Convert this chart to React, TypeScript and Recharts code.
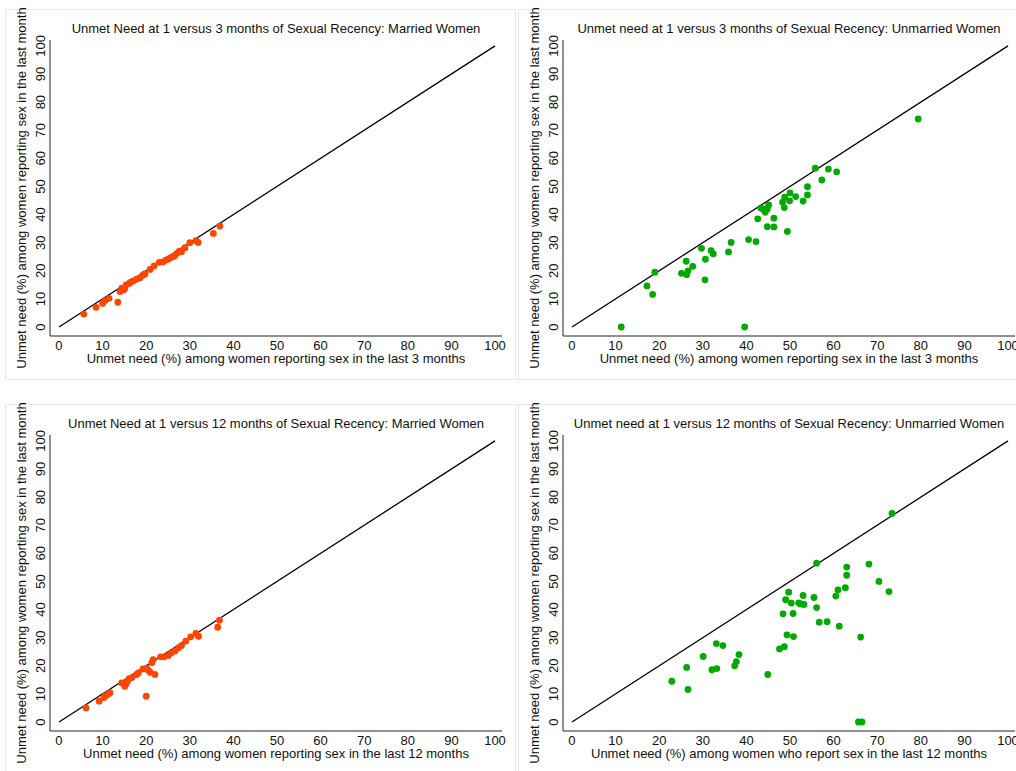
import { ScatterChart, Scatter, XAxis, YAxis, ReferenceLine } from "recharts"

// unmet need at 1 month (y) vs 3 / 12 months (x)
const married3m = [
  [5.7, 4.6], [8.5, 7.0], [10.0, 8.4], [10.6, 9.4], [11.5, 10.2], [13.5, 8.8],
  [14.0, 12.6], [14.4, 13.8], [15.1, 13.8], [15.4, 15.0], [16.1, 15.5], [17.0, 16.4],
  [17.8, 17.0], [18.6, 17.5], [19.3, 18.5], [19.7, 18.9], [20.9, 20.5], [21.8, 21.7],
  [23.0, 23.0], [23.9, 23.2], [25.1, 24.2], [25.8, 24.8], [26.4, 25.2], [27.1, 26.2],
  [28.1, 26.8], [28.9, 28.2], [30.0, 30.0], [31.4, 30.7], [31.9, 30.1], [35.4, 33.3],
  [36.9, 35.9], [14.8, 13.2], [16.5, 16.0], [24.5, 23.8], [27.6, 27.0],
]

const unmarried3m = [
  [11.3, 0], [39.6, 0], [17.2, 14.6], [18.5, 11.6], [19.0, 19.5], [25.1, 19.1],
  [26.2, 23.4], [26.3, 18.6], [26.6, 20.0], [27.7, 21.6], [29.7, 28.0], [30.5, 16.8],
  [30.6, 24.1], [31.9, 27.2], [32.4, 26.0], [35.9, 26.7], [36.5, 30.1], [40.5, 31.1],
  [42.2, 30.4], [42.6, 38.5], [43.3, 42.3], [43.8, 42.0], [44.3, 40.8], [44.8, 42.0],
  [45.1, 43.4], [44.8, 35.7], [46.3, 38.7], [46.3, 35.6], [48.3, 44.4], [48.8, 46.2],
  [48.7, 42.5], [49.4, 34.0], [49.9, 44.9], [50.0, 47.7], [51.3, 46.4], [53.0, 44.8],
  [54.0, 49.9], [54.0, 47.0], [55.8, 56.5], [57.3, 52.3], [58.8, 56.2], [60.7, 55.2],
  [79.4, 74.0],
]

const married12m = [
  [6.2, 5.0], [9.2, 7.4], [10.6, 9.2], [11.2, 9.8], [11.7, 10.4], [10.3, 8.7],
  [14.4, 13.9], [15.1, 12.7], [15.4, 13.6], [15.7, 14.5], [16.1, 15.4], [16.7, 15.8],
  [17.8, 16.9], [18.2, 17.5], [19.3, 18.9], [20.0, 9.2], [20.1, 19.2], [20.5, 18.4],
  [20.9, 17.7], [21.3, 21.1], [21.6, 22.2], [22.0, 16.9], [23.3, 23.2], [24.1, 23.2],
  [25.1, 23.7], [25.8, 24.6], [26.6, 25.3], [27.4, 26.4], [28.1, 27.2], [29.1, 28.8],
  [30.2, 30.3], [31.4, 31.5], [32.0, 30.5], [36.4, 33.7], [36.8, 36.2],
]

const unmarried12m = [
  [65.7, 0], [66.5, 0], [22.9, 14.5], [26.3, 19.4], [26.6, 11.6], [30.1, 23.3],
  [32.1, 18.6], [33.2, 19.0], [33.1, 27.9], [34.6, 27.2], [37.3, 20.0], [37.7, 21.5],
  [38.3, 24.0], [44.9, 16.9], [47.6, 26.0], [48.7, 26.8], [48.4, 38.5], [49.0, 43.5],
  [49.3, 31.0], [49.7, 46.2], [50.3, 42.3], [50.7, 38.6], [50.8, 30.4], [52.0, 42.4],
  [52.4, 42.0], [53.2, 41.8], [53.0, 45.0], [55.5, 44.3], [56.1, 40.7], [56.1, 56.5],
  [56.7, 35.5], [58.5, 35.7], [60.5, 44.8], [61.0, 47.0], [61.3, 34.1], [62.7, 47.8],
  [63.0, 52.2], [63.0, 55.1], [66.2, 30.2], [68.1, 56.2], [70.4, 50.0], [72.7, 46.4],
  [73.4, 74.2],
]

const ticks = [0, 10, 20, 30, 40, 50, 60, 70, 80, 90, 100]
const yTitle = "Unmet need (%) among women reporting sex in the last month"

const FONT = "'Liberation Sans', Arial, sans-serif"
const W = 511
const H = 371

const XTick = (props: any) => {
  const { x, y, payload } = props
  return (
    <text x={x} y={y + 9} dy="0.35em" textAnchor="middle" fontSize={13} fill="#111" fontFamily={FONT}>
      {payload.value}
    </text>
  )
}

const YTick = (props: any) => {
  const { x, y, payload } = props
  const cx = x - 10
  return (
    <text
      x={cx}
      y={y}
      dy="0.35em"
      textAnchor="middle"
      fontSize={13}
      fill="#111"
      fontFamily={FONT}
      transform={`rotate(-90, ${cx}, ${y})`}
    >
      {payload.value}
    </text>
  )
}

function Panel({ left, top, title, xTitle, points, color }: any) {
  const data = points.map((p: number[]) => ({ x: p[0], y: p[1] }))
  const txt = { position: "absolute" as const, fontFamily: FONT, fontSize: 13, color: "#111", lineHeight: "16px", whiteSpace: "nowrap" as const }
  return (
    <div style={{ position: "absolute", left, top, width: W, height: H }}>
      <div style={{ position: "absolute", left: 0, top: 0, width: W - 2, height: H - 2, border: "1px solid #e3eaed" }} />
      <div style={{ position: "absolute", left: 0, top: 0 }}>
        <ScatterChart width={W} height={H} margin={{ top: 31, right: 14, bottom: 0, left: 0 }}>
          <XAxis
            type="number"
            dataKey="x"
            domain={[-2.06, 101.6]}
            ticks={ticks}
            allowDataOverflow
            height={44}
            tickLine={false}
            tickSize={0}
            tickMargin={0}
            tick={<XTick />}
            axisLine={{ stroke: "#222" }}
            interval={0}
          />
          <YAxis
            type="number"
            dataKey="y"
            domain={[-3.2, 102.1]}
            ticks={ticks}
            allowDataOverflow
            width={45}
            tickLine={false}
            tickSize={0}
            tickMargin={0}
            tick={<YTick />}
            axisLine={{ stroke: "#222" }}
            interval={0}
          />
          <ReferenceLine segment={[{ x: 0, y: 0 }, { x: 100, y: 100 }]} stroke="#000" strokeWidth={1.3} />
          <Scatter
            data={data}
            isAnimationActive={false}
            shape={(p: any) => <circle cx={p.cx} cy={p.cy} r={3.4} fill={color} />}
          />
        </ScatterChart>
      </div>
      <div style={{ ...txt, left: 45, top: 12, width: 452, textAlign: "center" }}>{title}</div>
      <div style={{ ...txt, left: 45, top: 342, width: 452, textAlign: "center" }}>{xTitle}</div>
      <div
        style={{
          ...txt,
          left: 17 - 200,
          top: 179 - 8,
          width: 400,
          textAlign: "center",
          transform: "rotate(-90deg)",
        }}
      >
        {yTitle}
      </div>
    </div>
  )
}

export default function App() {
  return (
    <div style={{ position: "absolute", left: 0, top: 0, width: 1016, height: 771, overflow: "hidden", background: "#fff" }}>
      <Panel
        left={5}
        top={9}
        title="Unmet Need at 1 versus 3 months of Sexual Recency: Married Women"
        xTitle="Unmet need (%) among women reporting sex in the last 3 months"
        points={married3m}
        color="#ff4500"
      />
      <Panel
        left={518}
        top={9}
        title="Unmet need at 1 versus 3 months of Sexual Recency: Unmarried Women"
        xTitle="Unmet need (%) among women reporting sex in the last 3 months"
        points={unmarried3m}
        color="#00aa00"
      />
      <Panel
        left={5}
        top={404}
        title="Unmet Need at 1 versus 12 months of Sexual Recency: Married Women"
        xTitle="Unmet need (%) among women reporting sex in the last 12 months"
        points={married12m}
        color="#ff4500"
      />
      <Panel
        left={518}
        top={404}
        title="Unmet need at 1 versus 12 months of Sexual Recency: Unmarried Women"
        xTitle="Unmet need (%) among women who report sex in the last 12 months"
        points={unmarried12m}
        color="#00aa00"
      />
    </div>
  )
}
